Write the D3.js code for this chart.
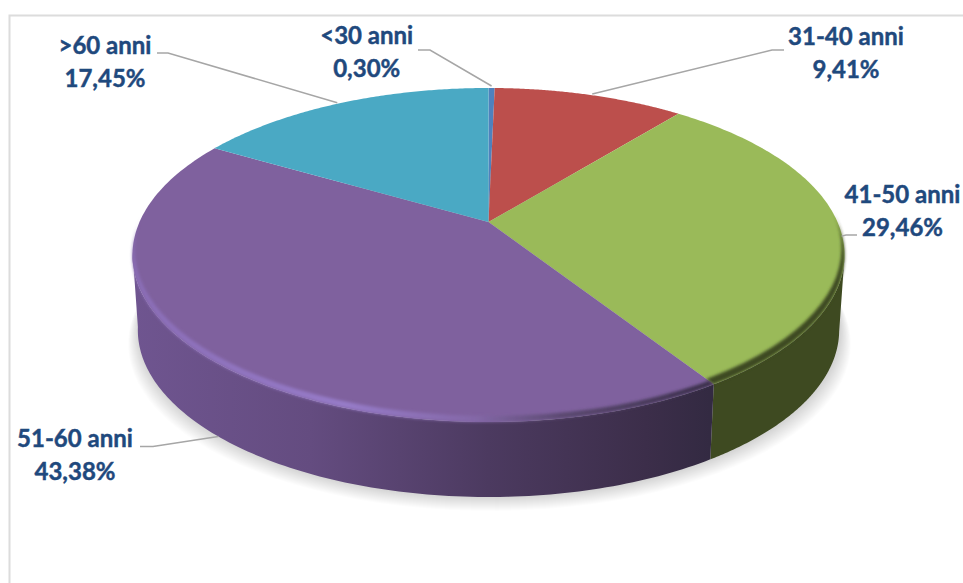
<!DOCTYPE html>
<html lang="it">
<head>
<meta charset="utf-8">
<title>Distribuzione per età</title>
<script src="https://cdnjs.cloudflare.com/ajax/libs/d3/7.9.0/d3.min.js"></script>
<style>
  html, body { margin: 0; padding: 0; background: #fff; overflow: hidden; }
  svg { display: block; }
  .label { font-family: Lato, "Open Sans", sans-serif; font-weight: 700; font-size: 24px; fill: #1f497d; stroke: #1f497d; stroke-width: 0.45; text-anchor: middle; }
  .leader { fill: none; stroke: #a6a6a6; stroke-width: 1.5; }
</style>
</head>
<body>
<svg id="chart" width="963" height="583"></svg>
<script>
// Age bands and their shares, clockwise from twelve o'clock.
const categories = ["<30 anni", "31-40 anni", "41-50 anni", "51-60 anni", ">60 anni"];
const shares = [0.30, 9.41, 29.46, 43.38, 17.45];
const shareLabels = ["0,30%", "9,41%", "29,46%", "43,38%", "17,45%"];
const faceColors = ["#4f81bd", "#bc4f4c", "#9aba59", "#7f619e", "#4aa9c4"];
const wallColors = ["#3a5f8c", "#8a3a38", "#3e4a21", "url(#wallPurple)", "#2f7f95"];

// Layout of each label: text centre, first baseline, leader start, elbow and tip nudge.
const labelX = [366.7, 846, 902.5, 75, 105];
const labelY = [44, 45, 202.7, 447, 54];
const leaderStart = [[418, 50], [784, 50], [857, 235], [140, 446.5], [157, 53]];
const leaderElbow = [[430, 50], [772, 50], [846, 235], [153, 446.5], [168, 53]];
const leaderOnBase = [false, false, false, true, false];
const leaderNudge = [[0, -2], [2, -1], [0, 3], [26, 17], [0, -1]];

const svg = d3.select("#chart");
const defs = svg.append("defs");

// Perspective of the disc: unit circle to screen.
const cx = 488.5, cy = 222, depth = 75, persp = 0.1976, baseScale = 0.985;
const sx = d3.scaleLinear().domain([-1, 1]).range([cx - 349, cx + 349]);
const sy = d3.scaleLinear().domain([-1, 1]).range([cy - 160.5, cy + 160.5]);
const DEG = Math.PI / 180;

function project(theta, level = 0, dx = 0, dy = 0) {
  // The camera is slightly off axis, which drags the angles clockwise a little.
  const t = theta + 8.4 * DEG * Math.sin(theta / 2) + 1.5 * DEG * Math.sin(2 * theta);
  const u = Math.sin(t), v = -Math.cos(t), d = 1 - persp * v;
  const s = level ? baseScale : 1;
  return [sx(u / d * s) + dx, sy(v / d) + (level ? depth : 0) + dy];
}
const sweep = (a, b) => d3.range(0, 121).map(i => a + (b - a) * i / 120);
const line = d3.line();
const TAU = 2 * Math.PI;
const disc = (level = 0, dx = 0, dy = 0) => line(sweep(0, TAU).map(t => project(t, level, dx, dy))) + "Z";

const arcs = d3.pie().value(d => d).sort(null)(shares);

// The wall is only seen between the two widest points of the rim.
const circle = sweep(0, TAU);
const wallFrom = circle[d3.greatest(d3.range(121), i => project(circle[i])[0])];
const wallTo = circle[d3.least(d3.range(121), i => project(circle[i])[0])];

// Filters and gradients
defs.append("filter").attr("id", "edge")
  .attr("filterUnits", "userSpaceOnUse")
  .attr("x", 0).attr("y", 0).attr("width", 963).attr("height", 583)
  .append("feGaussianBlur").attr("stdDeviation", 1.6);

function hGradient(id, stops) {
  const g = defs.append("linearGradient").attr("id", id)
    .attr("gradientUnits", "userSpaceOnUse")
    .attr("x1", 132).attr("x2", 845).attr("y1", 0).attr("y2", 0);
  stops.forEach(([o, c]) => g.append("stop").attr("offset", o).attr("stop-color", c));
}
hGradient("wallPurple", [[0, "#6f5590"], [0.25, "#644c80"], [0.5, "#4c3a60"], [0.72, "#3c2e4a"], [0.81, "#332a42"], [1, "#332a42"]]);
hGradient("bevelPurple", [[0, "#8a6db6"], [0.3, "#967bc8"], [0.48, "#8468a8"], [0.6, "#5c4a72"], [0.81, "#3a2f4a"], [1, "#3a2f4a"]]);

// Card frame
svg.append("path")
  .attr("d", "M9.5,583V15.5H963")
  .attr("fill", "none").attr("stroke", "#dcdcdc").attr("stroke-width", 2);

// Ground shadow: stacked, faint copies of the base outline that grow outward
const shadowSteps = d3.range(14, 0, -1);
svg.append("g").selectAll("path").data(shadowSteps).join("path")
  .attr("d", e => line(sweep(0, TAU).map(t => {
    const [x, y] = project(t, 1);
    return [cx + 1 + (x - cx) * (1 + e * 0.0022), y + e];
  })) + "Z")
  .attr("fill", "#000")
  .attr("fill-opacity", 0.011);

// Outer walls, front part of each slice only
const wallPath = d => {
  const a = Math.max(d.startAngle, wallFrom), b = Math.min(d.endAngle, wallTo);
  if (a >= b) return null;
  const rim = sweep(a, b).map(t => project(t, 0));
  const low = sweep(b, a).map(t => project(t, 1));
  return line(rim.concat(low)) + "Z";
};
svg.append("g").selectAll("path").data(arcs).join("path")
  .attr("d", wallPath)
  .attr("fill", d => wallColors[d.index]);

// Top faces
const wedge = d => line([[cx, cy]].concat(sweep(d.startAngle, d.endAngle).map(t => project(t, 0)))) + "Z";
svg.append("g").selectAll("path").data(arcs).join("path")
  .attr("d", wedge)
  .attr("fill", d => faceColors[d.index]);

// Rounded edge on the two front slices: the rim minus a nudged copy of itself
const bevels = [
  { index: 2, color: "#3e4a21", dx: -3, dy: -7 },
  { index: 3, color: "url(#bevelPurple)", dx: 2, dy: -6 }
];
bevels.forEach(b => {
  defs.append("clipPath").attr("id", "clip" + b.index)
    .append("path").attr("d", wedge(arcs[b.index]));
  svg.append("g").attr("filter", "url(#edge)")
    .append("g").attr("clip-path", `url(#clip${b.index})`)
    .append("path")
    .attr("d", "M0,0H963V583H0Z" + disc(0, b.dx, b.dy))
    .attr("fill-rule", "evenodd")
    .attr("fill", b.color);
});

// Leaders and labels
const mids = arcs.map(d => (d.startAngle + d.endAngle) / 2);
svg.append("g").selectAll("path").data(mids).join("path")
  .attr("class", "leader")
  .attr("d", (t, i) => line([leaderStart[i], leaderElbow[i],
    project(t, leaderOnBase[i] ? 1 : 0, leaderNudge[i][0], leaderNudge[i][1])]));

const labels = svg.append("g").selectAll("text").data(categories).join("text")
  .attr("class", "label")
  .attr("x", (d, i) => labelX[i])
  .attr("y", (d, i) => labelY[i]);
labels.append("tspan").text(d => d);
labels.append("tspan").attr("x", (d, i) => labelX[i]).attr("dy", 33).text((d, i) => shareLabels[i]);
</script>
</body>
</html>
